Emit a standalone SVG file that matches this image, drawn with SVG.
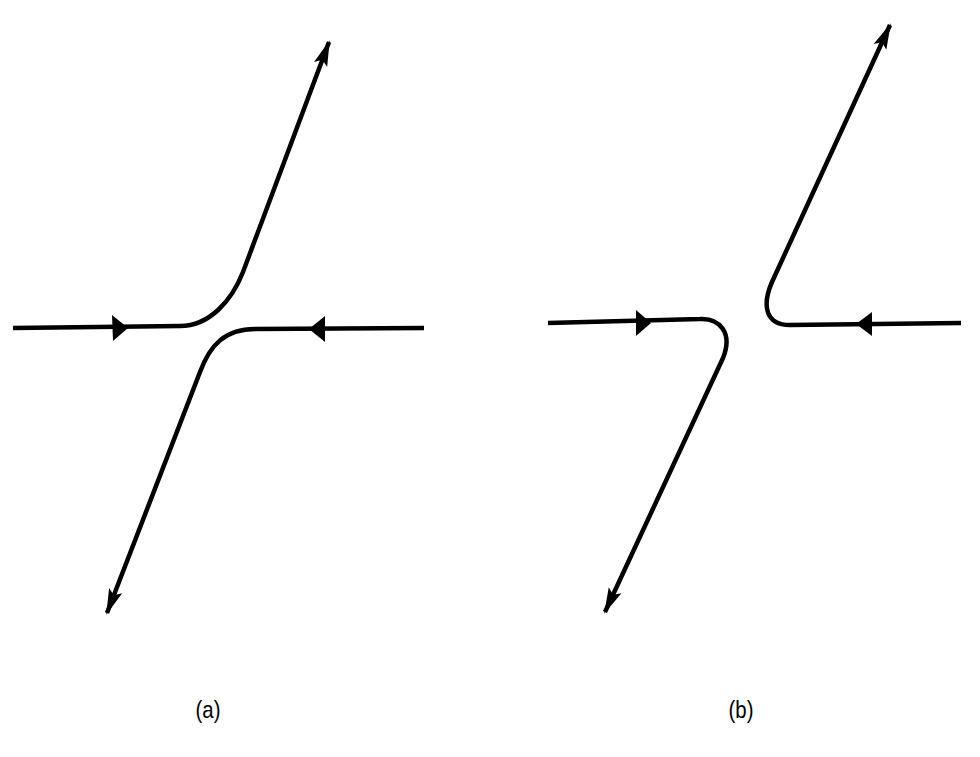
<svg xmlns="http://www.w3.org/2000/svg" width="980" height="757" viewBox="0 0 980 757">
<defs>
<style>
.c{fill:none;stroke:#000;stroke-width:4.5;stroke-linejoin:round;stroke-linecap:butt}
.h{fill:#000}
.t{font-family:"Liberation Sans","DejaVu Sans",sans-serif;font-size:24px;fill:#000;text-anchor:middle}
</style>
<marker id="tip" viewBox="0 0 26 16" refX="24" refY="8" markerWidth="26" markerHeight="16" markerUnits="userSpaceOnUse" orient="auto">
<path d="M0,1 L26,8 L0,15 L5,8 Z" fill="#000"/>
</marker>
</defs>
<rect width="980" height="757" fill="#fff"/>
<g id="connectors">
<g id="a-upper">
<path class="c" d="M13,328 L180,326 C210,326 232,300 243,272 L329,42" marker-end="url(#tip)"/>
<path class="h" d="M128,328 L112,315 L113,341 Z"/>
</g>
<g id="a-lower">
<path class="c" d="M424,328 L255,329 C225,329 210,345 200,372 L107,613" marker-end="url(#tip)"/>
<path class="h" d="M309,329 L325,316 L325,342 Z"/>
</g>
<g id="b-left">
<path class="c" d="M548,323 L700,319 C720,318 733,333 723,358 L605,612" marker-end="url(#tip)"/>
<path class="h" d="M651,323 L636,310 L636,336 Z"/>
</g>
<g id="b-right">
<path class="c" d="M961,323 L790,325 C765,325 762,305 772,282 L890,25" marker-end="url(#tip)"/>
<path class="h" d="M856,324 L872,312 L872,336 Z"/>
</g>
</g>
<g id="label-a"><text class="t" x="0" y="0" transform="translate(208,718) scale(0.85,1)">(a)</text></g>
<g id="label-b"><text class="t" x="0" y="0" transform="translate(741,718) scale(0.85,1)">(b)</text></g>
</svg>
